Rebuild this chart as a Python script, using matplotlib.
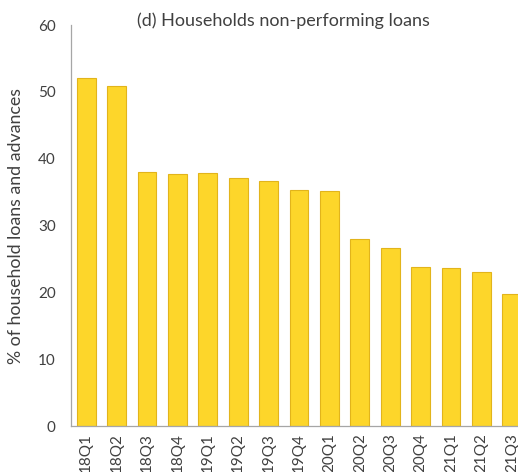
import matplotlib
matplotlib.use("Agg")
import matplotlib.pyplot as plt

categories = ["18Q1", "18Q2", "18Q3", "18Q4", "19Q1", "19Q2", "19Q3", "19Q4",
              "20Q1", "20Q2", "20Q3", "20Q4", "21Q1", "21Q2", "21Q3"]
npl_share = [52.1, 50.9, 38.0, 37.7, 37.8, 37.1, 36.6, 35.3,
             35.1, 28.0, 26.7, 23.8, 23.7, 23.1, 19.7]
yticks = [0, 10, 20, 30, 40, 50, 60]

plt.rcParams['font.family'] = ['Lato', 'DejaVu Sans']
text_color = '#404040'

fig = plt.figure(figsize=(5.18, 4.72), dpi=100)
W, H = 518, 472
left, right, bottom, top = 71, 527, 426, 25
ax = fig.add_axes([left / W, 1 - bottom / H, (right - left) / W, (bottom - top) / H])

x = range(len(categories))
ax.bar(x, npl_share, width=0.62, color='#FDD62A', edgecolor='#E2B41B', linewidth=0.8)
ax.set_xlim(-0.5, len(categories) - 0.5)
ax.set_ylim(0, 60)
ax.set_yticks(yticks)
ax.set_xticks(list(x))
ax.set_xticklabels(categories, rotation=90, fontsize=11, color=text_color)
ax.tick_params(axis='y', length=0, pad=11, labelsize=11, labelcolor=text_color)
ax.tick_params(axis='x', length=0, pad=5)
for s in ['top', 'right']:
    ax.spines[s].set_visible(False)
for s in ['left', 'bottom']:
    ax.spines[s].set_color('#A6A6A6')
    ax.spines[s].set_linewidth(0.9)
ax.set_ylabel('% of household loans and advances', fontsize=12.8, color=text_color, labelpad=10)
fig.text(283 / W, 1 - 21 / H, '(d) Households non-performing loans', ha='center', va='center',
         fontsize=13, color=text_color)

fig.savefig('out.png', dpi=100)
